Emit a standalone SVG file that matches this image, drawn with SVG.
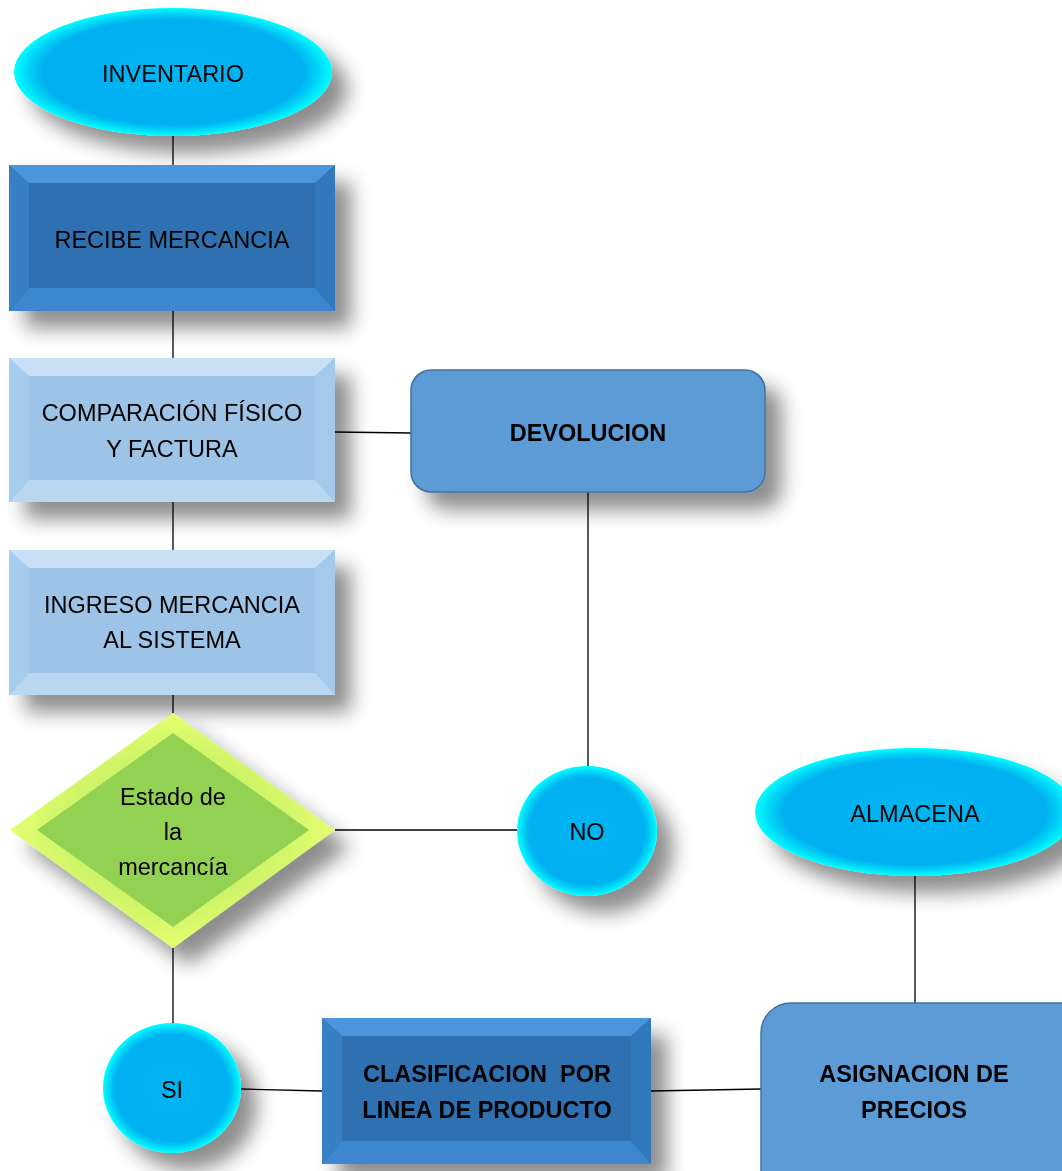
<svg xmlns="http://www.w3.org/2000/svg" width="1062" height="1171" viewBox="0 0 1062 1171">
<defs>
<filter id="sh" x="-30%" y="-30%" width="170%" height="170%">
<feGaussianBlur in="SourceAlpha" stdDeviation="10"/>
<feOffset dx="16" dy="17" result="b"/>
<feComponentTransfer><feFuncA type="linear" slope="0.45"/></feComponentTransfer>
<feMerge><feMergeNode/><feMergeNode in="SourceGraphic"/></feMerge>
</filter>
<radialGradient id="cyan" cx="0.5" cy="0.5" r="0.5">
<stop offset="0" stop-color="#00B4F2"/>
<stop offset="0.82" stop-color="#00B0F0"/>
<stop offset="0.9" stop-color="#00CFF6"/>
<stop offset="1" stop-color="#00FFFF"/>
</radialGradient>
<radialGradient id="grn" cx="0.5" cy="0.5" r="0.5">
<stop offset="0" stop-color="#A8E05A"/>
<stop offset="1" stop-color="#E4FF70"/>
</radialGradient>
</defs>
<style>
.t{font-family:"Liberation Sans",Arial,sans-serif;font-size:23.5px;fill:#000;text-anchor:middle}
.b{font-weight:bold}
.ln{stroke:#000;stroke-width:1.3;fill:none}
.dk{fill:#2E70B0}
.dkt{fill:#4C95DC}
.dkb{fill:#3C86D0}
.dkl{fill:#377FC4}
.dkr{fill:#3278BC}
.lt{fill:#9DC3E6}
.ltt{fill:#C7E0F6}
.ltb{fill:#BAD7F1}
.ltl{fill:#A8CCEC}
.ltr{fill:#A4C9EA}
.rr{fill:#5B9BD5;stroke:#41719C;stroke-width:1.5}
</style>
<rect width="1062" height="1171" fill="#fff"/>

<g id="connectors">
<line class="ln" x1="173" y1="136" x2="173" y2="165"/>
<line class="ln" x1="173" y1="311" x2="173" y2="358"/>
<line class="ln" x1="173" y1="502" x2="173" y2="550"/>
<line class="ln" x1="173" y1="695" x2="173" y2="713"/>
<line class="ln" x1="335" y1="432" x2="411" y2="433"/>
<line class="ln" x1="588" y1="492" x2="588" y2="767"/>
<line class="ln" x1="335" y1="830" x2="517" y2="830"/>
<line class="ln" x1="173" y1="948" x2="173" y2="1024"/>
<line class="ln" x1="241" y1="1089" x2="322" y2="1091"/>
<line class="ln" x1="651" y1="1091" x2="761" y2="1089"/>
<line class="ln" x1="915" y1="876" x2="915" y2="1003"/>
</g>

<g id="inventario" filter="url(#sh)">
<ellipse cx="173" cy="72" rx="159" ry="64" fill="url(#cyan)"/>
<text class="t" x="173" y="82">INVENTARIO</text>
</g>

<g id="recibe" filter="url(#sh)">
<rect class="dk" x="9" y="165" width="326" height="146"/>
<polygon class="dkt" points="9,165 335,165 315,183 29,183"/>
<polygon class="dkb" points="9,311 335,311 315,288 29,288"/>
<polygon class="dkl" points="9,165 29,183 29,288 9,311"/>
<polygon class="dkr" points="335,165 315,183 315,288 335,311"/>
<text class="t" x="172" y="248">RECIBE MERCANCIA</text>
</g>

<g id="comparacion" filter="url(#sh)">
<rect class="lt" x="9" y="358" width="326" height="144"/>
<polygon class="ltt" points="9,358 335,358 315,376 29,376"/>
<polygon class="ltb" points="9,502 335,502 315,480 29,480"/>
<polygon class="ltl" points="9,358 29,376 29,480 9,502"/>
<polygon class="ltr" points="335,358 315,376 315,480 335,502"/>
<text class="t" x="172" y="421">COMPARACIÓN FÍSICO</text>
<text class="t" x="172" y="457">Y FACTURA</text>
</g>

<g id="ingreso" filter="url(#sh)">
<rect class="lt" x="9" y="550" width="326" height="145"/>
<polygon class="ltt" points="9,550 335,550 315,568 29,568"/>
<polygon class="ltb" points="9,695 335,695 315,673 29,673"/>
<polygon class="ltl" points="9,550 29,568 29,673 9,695"/>
<polygon class="ltr" points="335,550 315,568 315,673 335,695"/>
<text class="t" x="172" y="613">INGRESO MERCANCIA</text>
<text class="t" x="172" y="648">AL SISTEMA</text>
</g>

<g id="devolucion" filter="url(#sh)">
<rect class="rr" x="411" y="370" width="354" height="122" rx="20"/>
<text class="t b" x="588" y="441">DEVOLUCION</text>
</g>

<g id="estado" filter="url(#sh)">
<polygon points="173,713 335,830 173,948 10,830" fill="url(#grn)"/>
<polygon points="173,733 309,830 173,927 37,830" fill="#93D152"/>
<text class="t" x="173" y="805">Estado de</text>
<text class="t" x="173" y="840">la</text>
<text class="t" x="173" y="875">mercancía</text>
</g>

<g id="no" filter="url(#sh)">
<ellipse cx="587" cy="831" rx="70" ry="65" fill="url(#cyan)"/>
<text class="t" x="587" y="840">NO</text>
</g>

<g id="almacena" filter="url(#sh)">
<ellipse cx="915" cy="812" rx="160" ry="64" fill="url(#cyan)"/>
<text class="t" x="915" y="822">ALMACENA</text>
</g>

<g id="si" filter="url(#sh)">
<ellipse cx="172" cy="1088" rx="69" ry="65" fill="url(#cyan)"/>
<text class="t" x="172" y="1098">SI</text>
</g>

<g id="clasificacion" filter="url(#sh)">
<rect class="dk" x="322" y="1018" width="329" height="146"/>
<polygon class="dkt" points="322,1018 651,1018 631,1036 342,1036"/>
<polygon class="dkb" points="322,1164 651,1164 631,1141 342,1141"/>
<polygon class="dkl" points="322,1018 342,1036 342,1141 322,1164"/>
<polygon class="dkr" points="651,1018 631,1036 631,1141 651,1164"/>
<text class="t b" x="487" y="1082" xml:space="preserve">CLASIFICACION  POR</text>
<text class="t b" x="487" y="1118">LINEA DE PRODUCTO</text>
</g>

<g id="asignacion" filter="url(#sh)">
<rect class="rr" x="761" y="1003" width="330" height="200" rx="30"/>
<text class="t b" x="914" y="1082">ASIGNACION DE</text>
<text class="t b" x="914" y="1118">PRECIOS</text>
</g>
</svg>
